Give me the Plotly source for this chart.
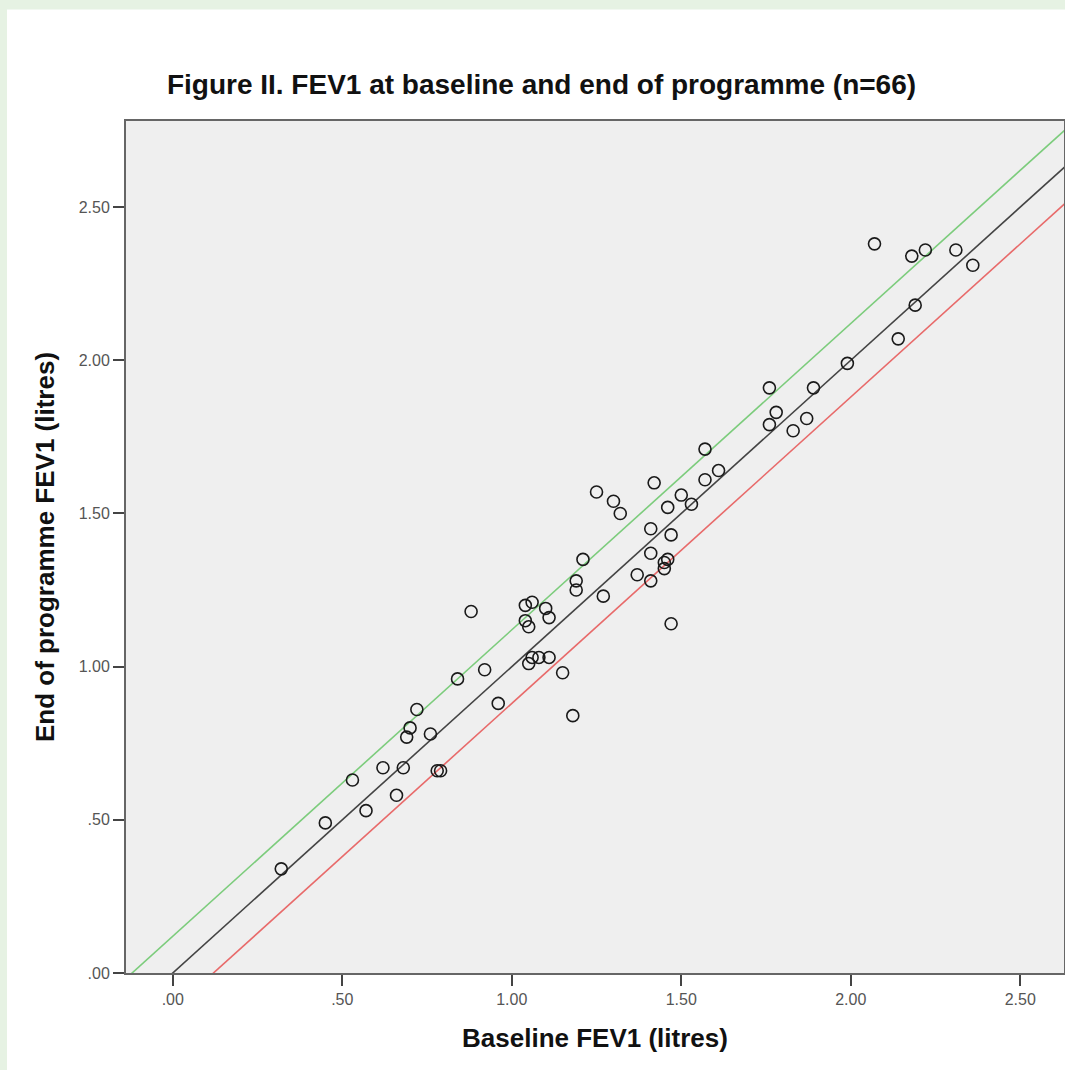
import plotly.graph_objects as go

# ---- data ----
baseline_fev1 = [0.32, 0.45, 0.53, 0.57, 0.62, 0.66, 0.68, 0.69, 0.70, 0.72,
                 0.76, 0.78, 0.79, 0.84, 0.88, 0.92, 0.96, 1.04, 1.06, 1.04,
                 1.05, 1.05, 1.06, 1.08, 1.11, 1.10, 1.11, 1.15, 1.18, 1.19,
                 1.19, 1.21, 1.25, 1.27, 1.30, 1.32, 1.37, 1.41, 1.41, 1.41,
                 1.42, 1.45, 1.45, 1.46, 1.46, 1.47, 1.47, 1.50, 1.53, 1.57,
                 1.57, 1.61, 1.76, 1.76, 1.78, 1.83, 1.87, 1.89, 1.99, 2.07,
                 2.14, 2.18, 2.19, 2.22, 2.31, 2.36]
end_fev1 = [0.34, 0.49, 0.63, 0.53, 0.67, 0.58, 0.67, 0.77, 0.80, 0.86,
            0.78, 0.66, 0.66, 0.96, 1.18, 0.99, 0.88, 1.20, 1.21, 1.15,
            1.13, 1.01, 1.03, 1.03, 1.03, 1.19, 1.16, 0.98, 0.84, 1.28,
            1.25, 1.35, 1.57, 1.23, 1.54, 1.50, 1.30, 1.37, 1.45, 1.28,
            1.60, 1.32, 1.34, 1.35, 1.52, 1.43, 1.14, 1.56, 1.53, 1.71,
            1.61, 1.64, 1.91, 1.79, 1.83, 1.77, 1.81, 1.91, 1.99, 2.38,
            2.07, 2.34, 2.18, 2.36, 2.36, 2.31]

ref_line_offsets = [0.12, 0.0, -0.12]
ref_line_colors = ["#7ccc7c", "#444444", "#e86a6a"]

x_range = [-0.138, 2.629]
y_range = [0.0, 2.781]

tick_vals = [0.0, 0.5, 1.0, 1.5, 2.0, 2.5]
tick_text = [".00", ".50", "1.00", "1.50", "2.00", "2.50"]

title_text = "Figure II. FEV1 at baseline and end of programme (n=66)"
x_title = "Baseline FEV1 (litres)"
y_title = "End of programme FEV1 (litres)"

FONT = "Liberation Sans, Arial, sans-serif"

fig = go.Figure()

# reference lines y = x + offset
for off, col in zip(ref_line_offsets, ref_line_colors):
    xs = [x_range[0] - 0.5, x_range[1] + 0.5]
    fig.add_trace(go.Scatter(x=xs, y=[v + off for v in xs], mode="lines",
                             line=dict(color=col, width=1.6),
                             hoverinfo="skip", showlegend=False))

fig.add_trace(go.Scatter(
    x=baseline_fev1, y=end_fev1, mode="markers",
    marker=dict(symbol="circle-open", size=12,
                line=dict(color="#1a1a1a", width=1.6), color="#1a1a1a"),
    showlegend=False))

axis_common = dict(
    tickmode="array", tickvals=tick_vals, ticktext=tick_text,
    ticks="outside", ticklen=11, tickwidth=2, tickcolor="#444444",
    showgrid=False, zeroline=False,
    showline=True, linecolor="#666666", linewidth=2, mirror=True,
    tickfont=dict(family=FONT, size=16, color="#555555"),
    automargin=False,
)

fig.update_xaxes(range=x_range, title=dict(text="<b>" + x_title + "</b>", standoff=22,
                 font=dict(family=FONT, size=26, color="#111111")),
                 **axis_common)
fig.update_yaxes(range=y_range, title=dict(text="<b>" + y_title + "</b>", standoff=17,
                 font=dict(family=FONT, size=26, color="#111111")),
                 **axis_common)

# green page border strips (outside the plot area)
fig.add_shape(type="rect", xref="paper", yref="paper",
              x0=-0.2, x1=(7 - 126) / 938, y0=-0.2, y1=1.3,
              fillcolor="#e6f2e3", line=dict(width=0), layer="below")
fig.add_shape(type="rect", xref="paper", yref="paper",
              x0=-0.2, x1=1.2, y0=(972.5 - 9) / 852, y1=1.3,
              fillcolor="#e6f2e3", line=dict(width=0), layer="below")

fig.update_layout(
    width=1065, height=1070,
    margin=dict(l=126, r=1, t=121, b=97),
    paper_bgcolor="white", plot_bgcolor="#efefef",
    font=dict(family=FONT),
    title=dict(text="<b>" + title_text + "</b>", x=541.5 / 1065, xanchor="center",
               xref="container", y=1 - 84 / 1070, yref="container", yanchor="middle",
               font=dict(family=FONT, size=28, color="#111111")),
)

fig.write_html("out.html",
               config={"displayModeBar": False},
               post_script="document.body.style.margin='0';"
                           "document.body.style.overflow='hidden';")
